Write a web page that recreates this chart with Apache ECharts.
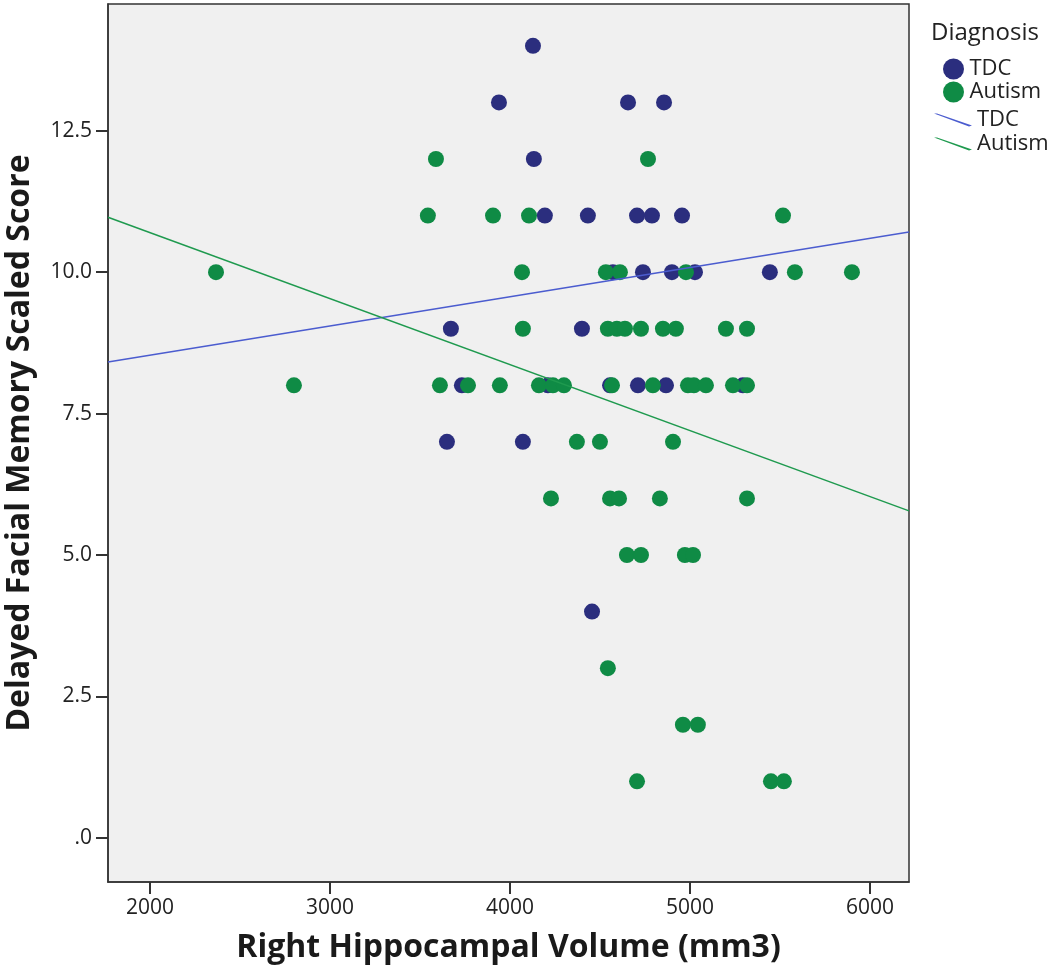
<!DOCTYPE html>
<html>
<head>
<meta charset="utf-8">
<script src="https://cdn.jsdelivr.net/npm/echarts@6/dist/echarts.min.js"></script>
<style>
  html, body { margin: 0; padding: 0; background: #fff; }
  #chart { width: 1050px; height: 973px; }
</style>
</head>
<body>
<div id="chart"></div>
<script>
// volumes (mm3) and scores
const tdcVolume = [4128, 3939, 4656, 4856, 4133, 4194, 4433, 4706, 4789, 4956,
  4572, 4739, 4900, 5028, 5444, 3672, 4400, 3733, 4211, 4556, 4711, 4867, 5294,
  3650, 4072, 4456];
const tdcScore = [14, 13, 13, 13, 12, 11, 11, 11, 11, 11,
  10, 10, 10, 10, 10, 9, 9, 8, 8, 8, 8, 8, 8,
  7, 7, 4];

const autismVolume = [3589, 4767,
  3544, 3906, 4106, 5517,
  2367, 4067, 4533, 4611, 4978, 5583, 5900,
  4072, 4544, 4594, 4639, 4728, 4850, 4922, 5200, 5317,
  2800, 3611, 3767, 3944, 4161, 4239, 4300, 4567, 4794, 4989, 5022, 5089, 5239, 5317,
  4372, 4500, 4906,
  4228, 4556, 4606, 4833, 5317,
  4650, 4728, 4972, 5017,
  4544,
  4961, 5044,
  4706, 5450, 5522];
const autismScore = [12, 12,
  11, 11, 11, 11,
  10, 10, 10, 10, 10, 10, 10,
  9, 9, 9, 9, 9, 9, 9, 9, 9,
  8, 8, 8, 8, 8, 8, 8, 8, 8, 8, 8, 8, 8, 8,
  7, 7, 7,
  6, 6, 6, 6, 6,
  5, 5, 5, 5,
  3,
  2, 2,
  1, 1, 1];

// fit line ends (x at plot edges)
const fitX = [1767, 6217];
const tdcFit = [8.41, 10.71];
const autismFit = [10.97, 5.78];

const xTicks = [2000, 3000, 4000, 5000, 6000];
const yTicks = [0, 2.5, 5, 7.5, 10, 12.5];

const xMin = 1767, xMax = 6217;
const yMin = -0.78, yMax = 14.74;

const navy = '#2b2e7e';
const green = '#0f8b45';

const pair = (xs, ys) => xs.map((x, i) => [x, ys[i]]);

const chart = echarts.init(document.getElementById('chart'));
const font = '"Open Sans", "DejaVu Sans", sans-serif';
const frame = { color: '#333', width: 1.5 };

chart.setOption({
  animation: false,
  backgroundColor: '#ffffff',
  textStyle: { fontFamily: font },
  title: {
    text: 'Diagnosis',
    left: 926,
    top: 16,
    textStyle: { fontSize: 24, fontWeight: 'normal', color: '#222', fontFamily: font }
  },
  legend: [
    {
      data: ['TDC', 'Autism'],
      orient: 'vertical',
      left: 938,
      top: 53,
      itemWidth: 22,
      itemHeight: 21,
      itemGap: 1,
      icon: 'circle',
      textStyle: { fontSize: 22, color: '#222', fontFamily: font }
    },
    {
      data: ['TDC ', 'Autism '],
      orient: 'vertical',
      left: 929,
      top: 104,
      itemWidth: 38,
      itemHeight: 13,
      itemGap: 2,
      icon: 'path://M0,0L3,0L38,12L35,13Z',
      formatter: n => n.trim(),
      textStyle: { fontSize: 22, color: '#222', fontFamily: font }
    }
  ],
  grid: {
    left: 108,
    right: 141,
    top: 4,
    bottom: 91,
    outerBoundsMode: 'none',
    show: true,
    backgroundColor: '#f0f0f0',
    borderColor: '#333',
    borderWidth: 1.5
  },
  xAxis: {
    type: 'value',
    min: xMin,
    max: xMax,
    name: 'Right Hippocampal Volume (mm3)',
    nameLocation: 'middle',
    nameGap: 50,
    nameTextStyle: { fontSize: 32, fontWeight: 'bold', color: '#1a1a1a', fontFamily: font },
    axisLine: { show: true, onZero: false, lineStyle: frame },
    splitLine: { show: false },
    axisTick: { show: true, inside: false, length: 12, customValues: xTicks,
      lineStyle: { color: '#333', width: 2 } },
    axisLabel: { customValues: xTicks, fontSize: 21, color: '#222', margin: 16,
      formatter: v => String(v) }
  },
  yAxis: {
    type: 'value',
    min: yMin,
    max: yMax,
    name: 'Delayed Facial Memory Scaled Score',
    nameLocation: 'middle',
    nameGap: 72,
    nameTextStyle: { fontSize: 32, fontWeight: 'bold', color: '#1a1a1a', fontFamily: font },
    axisLine: { show: true, onZero: false, lineStyle: frame },
    splitLine: { show: false },
    axisTick: { show: true, inside: false, length: 12, customValues: yTicks,
      lineStyle: { color: '#333', width: 2 } },
    axisLabel: {
      customValues: yTicks, fontSize: 21, color: '#222', margin: 16,
      formatter: v => (v === 0 ? '.0' : v.toFixed(1))
    }
  },
  series: [
    {
      name: 'TDC',
      type: 'scatter',
      symbolSize: 16,
      itemStyle: { color: navy, opacity: 1 },
      data: pair(tdcVolume, tdcScore),
      z: 3
    },
    {
      name: 'Autism',
      type: 'scatter',
      symbolSize: 16,
      itemStyle: { color: green, opacity: 1 },
      data: pair(autismVolume, autismScore),
      z: 4
    },
    {
      name: 'TDC ',
      type: 'line',
      showSymbol: false,
      symbol: 'none',
      lineStyle: { color: '#4b5ccf', width: 1.5 },
      itemStyle: { color: '#4b5ccf' },
      data: pair(fitX, tdcFit),
      z: 5
    },
    {
      name: 'Autism ',
      type: 'line',
      showSymbol: false,
      symbol: 'none',
      lineStyle: { color: '#1f9a4f', width: 1.5 },
      itemStyle: { color: '#1f9a4f' },
      data: pair(fitX, autismFit),
      z: 5
    }
  ]
});
</script>
</body>
</html>
